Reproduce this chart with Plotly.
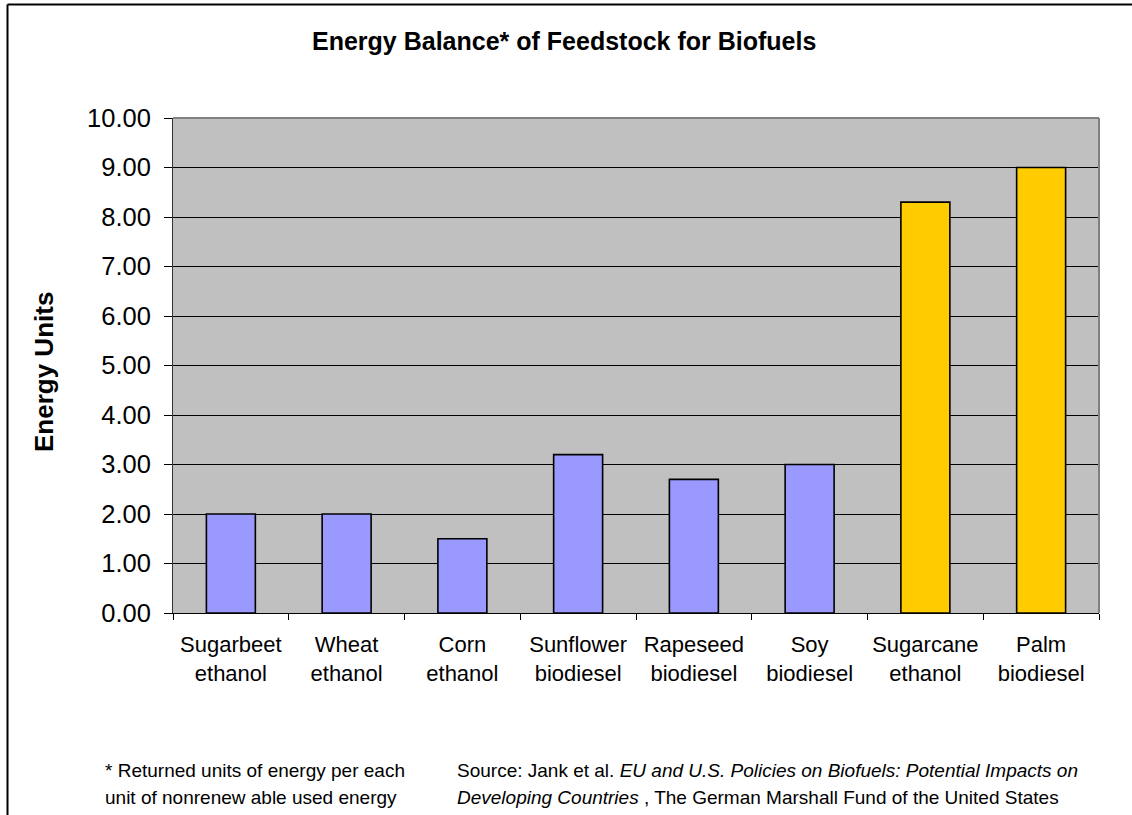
import plotly.graph_objects as go

categories = ["Sugarbeet<br>ethanol", "Wheat<br>ethanol", "Corn<br>ethanol",
              "Sunflower<br>biodiesel", "Rapeseed<br>biodiesel", "Soy<br>biodiesel",
              "Sugarcane<br>ethanol", "Palm<br>biodiesel"]
energy_units = [2.0, 2.0, 1.5, 3.2, 2.7, 3.0, 8.3, 9.0]
feedstock_zone = ["temperate", "temperate", "temperate", "temperate",
                  "temperate", "temperate", "tropical", "tropical"]
y_ticks = [0, 1, 2, 3, 4, 5, 6, 7, 8, 9, 10]

zone_colors = {"temperate": "#9999FF", "tropical": "#FFCC00"}

W, H = 1132, 815
L, R, T, B = 173, 1099, 118, 613
FONT = "Arial, Liberation Sans, sans-serif"


def px_x(px):
    return (px - L) / (R - L)


def px_y(py):
    return (B - py) / (B - T)


fig = go.Figure()
fig.add_trace(go.Bar(
    x=categories,
    y=energy_units,
    marker=dict(color=[zone_colors[z] for z in feedstock_zone],
                line=dict(color="black", width=1.6)),
    hoverinfo="x+y",
))

fig.update_layout(
    width=W, height=H,
    margin=dict(l=L, r=W - R, t=T, b=H - B, pad=0),
    paper_bgcolor="white",
    plot_bgcolor="#C0C0C0",
    bargap=0.577,
    showlegend=False,
    font=dict(family=FONT, color="black"),
)

fig.update_xaxes(
    type="category",
    tickson="boundaries",
    ticks="outside", ticklen=6, tickwidth=1, tickcolor="black",
    showline=True, linecolor="black", linewidth=1,
    showgrid=False,
    tickfont=dict(size=22, family=FONT, color="black"),
    ticklabelstandoff=12,
)
fig.update_yaxes(
    range=[0, 10],
    tickvals=y_ticks,
    tickformat=".2f",
    ticks="outside", ticklen=8, tickwidth=1, tickcolor="black",
    showline=True, linecolor="#333333", linewidth=1,
    showgrid=True, gridcolor="black", gridwidth=1,
    zeroline=False,
    tickfont=dict(size=25.5, family=FONT, color="black"),
    ticklabelstandoff=8,
)

shapes = [
    # plot area border (top and right) in gray
    dict(type="line", xref="paper", yref="paper", x0=0, x1=1, y0=1, y1=1,
         line=dict(color="#808080", width=2), layer="above"),
    dict(type="line", xref="paper", yref="paper", x0=1, x1=1, y0=0, y1=1,
         line=dict(color="#808080", width=2), layer="above"),
    # chart frame (top and left)
    dict(type="line", xref="paper", yref="paper", x0=px_x(7.5), x1=px_x(W + 5),
         y0=px_y(4.5), y1=px_y(4.5), line=dict(color="black", width=2)),
    dict(type="line", xref="paper", yref="paper", x0=px_x(7.5), x1=px_x(7.5),
         y0=px_y(4.5), y1=px_y(H + 5), line=dict(color="black", width=2)),
]
fig.update_layout(shapes=shapes)

annotations = [
    dict(text="<b>Energy Balance* of Feedstock for Biofuels</b>",
         x=px_x(564), y=px_y(41), xanchor="center", yanchor="middle",
         font=dict(size=25, family=FONT)),
    dict(text="<b>Energy Units</b>", textangle=-90,
         x=px_x(44), y=px_y(372), xanchor="center", yanchor="middle",
         font=dict(size=26, family=FONT)),
    dict(text="* Returned units of energy per each",
         x=px_x(103), y=px_y(770), xanchor="left", yanchor="middle",
         font=dict(size=19, family=FONT)),
    dict(text="unit of nonrenew able used energy",
         x=px_x(103), y=px_y(797), xanchor="left", yanchor="middle",
         font=dict(size=19, family=FONT)),
    dict(text="Source: Jank et al. <i>EU and U.S. Policies on Biofuels: Potential Impacts on</i>",
         x=px_x(455), y=px_y(770), xanchor="left", yanchor="middle",
         font=dict(size=19, family=FONT)),
    dict(text="<i>Developing Countries</i> , The German Marshall Fund of the United States",
         x=px_x(455), y=px_y(797), xanchor="left", yanchor="middle",
         font=dict(size=19, family=FONT)),
]
for a in annotations:
    a.update(xref="paper", yref="paper", showarrow=False)
fig.update_layout(annotations=annotations)

fig.write_html("out.html",
               config={"displayModeBar": False},
               post_script="document.body.style.margin='0px';"
                           "document.body.style.overflow='hidden';")
